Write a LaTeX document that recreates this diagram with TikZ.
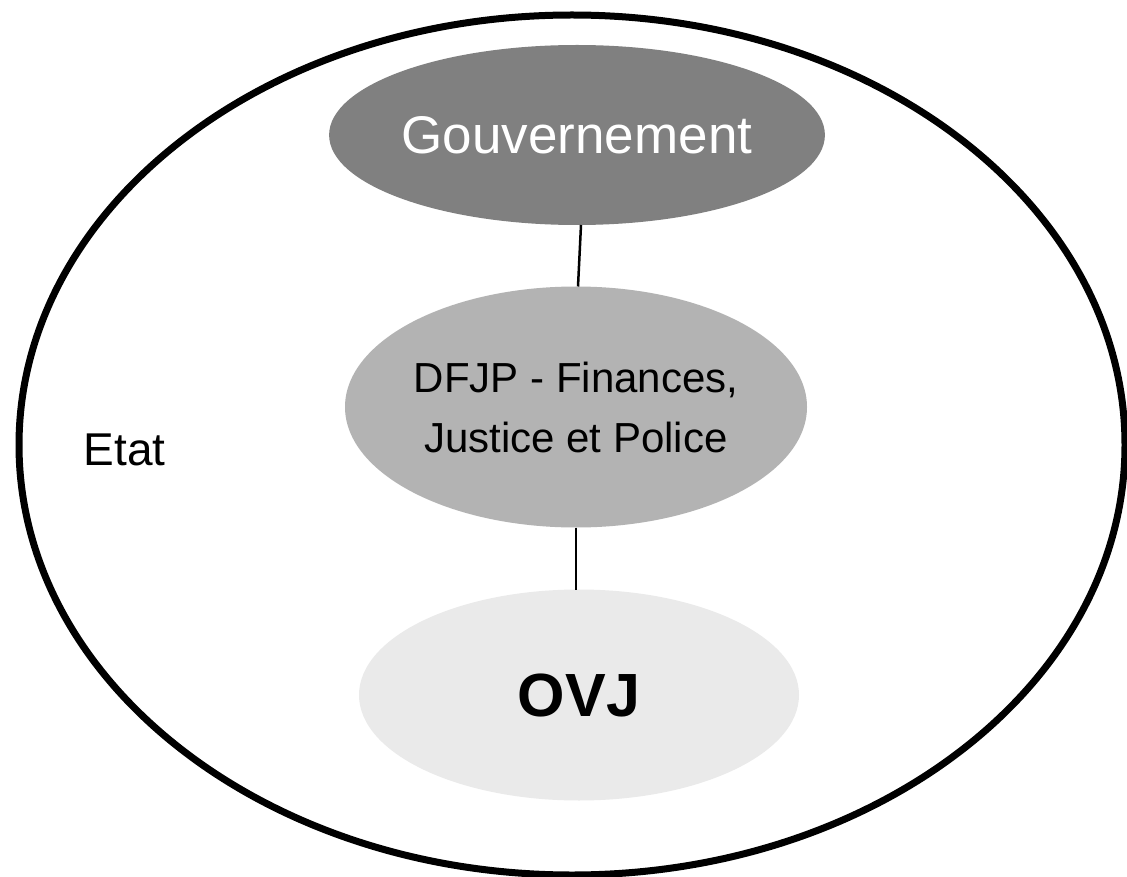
\documentclass[tikz,border=0pt]{standalone}
\usepackage{fontspec}
\setmainfont{Liberation Sans}
\usetikzlibrary{shapes.geometric}
\definecolor{gouvgray}{HTML}{808080}
\definecolor{dfjpgray}{HTML}{B3B3B3}
\definecolor{ovjgray}{HTML}{EAEAEA}
\tikzset{
  blob/.style={ellipse, inner sep=0pt, outer sep=0pt, draw=none},
  link/.style={draw=black, line width=2.5pt},
  outerring/.style={ellipse, draw=black, line width=7pt, inner sep=0pt, outer sep=0pt}
}
\begin{document}
\begin{tikzpicture}[x=1pt,y=-1pt]
\useasboundingbox (0,0) rectangle (1127,877);
\fill[white] (0,0) rectangle (1127,877);
\node[outerring, minimum width=1106pt, minimum height=860pt] (etat) at (572,445) {};
\node[anchor=base west, font=\fontsize{46pt}{52pt}\selectfont] (etatlabel) at (80,465) {Etat};
\node[blob, fill=gouvgray, minimum width=412pt, minimum height=180pt,
      text=white, font=\fontsize{53pt}{60pt}\selectfont] (gouv) at (577,135) {Gouvernement};
\node[blob, fill=dfjpgray, minimum width=462pt, minimum height=241pt,
      align=center, font=\fontsize{42pt}{60pt}\selectfont] (dfjp) at (576,407) {DFJP - Finances,\\ Justice et Police};
\node[blob, fill=ovjgray, minimum width=440pt, minimum height=211pt,
      font=\fontsize{61pt}{70pt}\selectfont\bfseries] (ovj) at (579,695) {OVJ};
\draw[link] ([xshift=4pt]gouv.south) -- ([xshift=2pt]dfjp.north);
\draw[link] (dfjp.south) -- ([xshift=-3pt]ovj.north);
\end{tikzpicture}
\end{document}
